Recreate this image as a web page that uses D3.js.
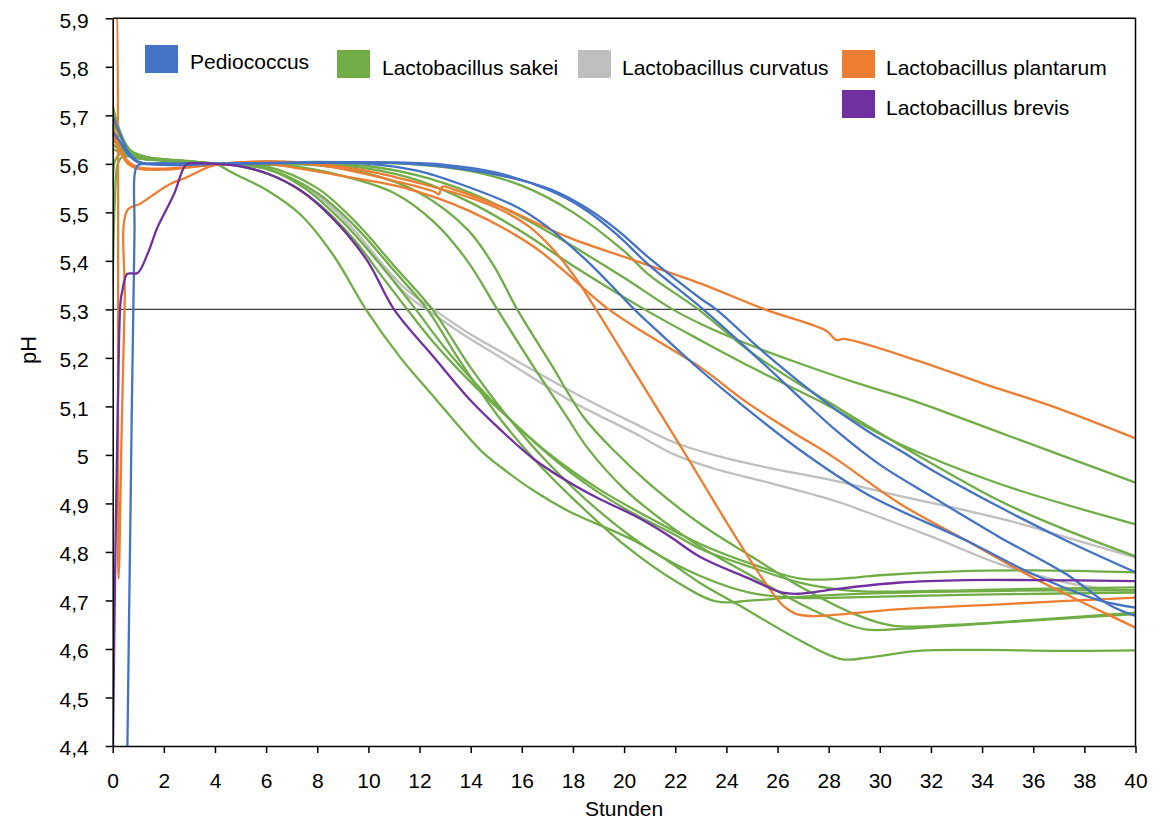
<!DOCTYPE html>
<html>
<head>
<meta charset="utf-8">
<script src="https://cdn.jsdelivr.net/npm/d3@7"></script>
<style>
  body { margin: 0; background: #ffffff; }
  text { font-family: "Liberation Sans", Arial, sans-serif; fill: #000; }
</style>
</head>
<body>
<svg id="chart" width="1155" height="825"></svg>
<script>
// pH curves during fermentation, hours 0–40, one array of [hours, pH] per starter run

// Pediococcus
const pedioA = [[0,5.70],[0.3,5.66],[0.6,5.625],[1,5.605],[2,5.598],[4,5.6],[8,5.602],[10,5.6],[11.9,5.586],[13.5,5.56],[15.8,5.511],[17,5.47],[18.4,5.407],[19.4,5.355],[20.4,5.3],[21,5.27],[23,5.174],[24.4,5.112],[26.9,5.009],[29.5,4.919],[33.4,4.823],[36,4.754],[38.6,4.70],[40,4.685]];
const pedioB = [[0,5.665],[0.3,5.645],[0.6,5.62],[1,5.603],[2,5.598],[4,5.6],[8,5.603],[11,5.602],[13.2,5.593],[15,5.578],[17.1,5.548],[18.5,5.51],[19.7,5.465],[21,5.405],[23,5.322],[23.6,5.3],[25.5,5.21],[27.8,5.112],[29.5,5.05],[30.8,5.009],[32,4.97],[34.7,4.892],[37.3,4.823],[40,4.758]];
const pedioC = [[0.55,4.3],[0.7,4.9],[0.85,5.45],[0.95,5.595],[1.2,5.6],[4,5.6],[8,5.603],[11,5.603],[13,5.598],[15,5.582],[17.1,5.545],[18.5,5.505],[19.7,5.455],[21,5.39],[23,5.304],[25,5.21],[27,5.112],[28.3,5.05],[30,4.98],[32.1,4.912],[34.7,4.83],[37.3,4.754],[39,4.69],[40,4.668]];

// Lactobacillus sakei
const sakeiA = [[0,5.35],[0.08,5.52],[0.2,5.6],[0.4,5.615],[1,5.612],[2.5,5.605],[4,5.6],[4.74,5.58],[6.05,5.545],[7.35,5.495],[8.65,5.41],[9.9,5.3],[11.26,5.2],[12.57,5.119],[14.4,5.009],[15.2,4.974],[16.5,4.925],[17.8,4.885],[20.4,4.823],[21.7,4.782],[23,4.735],[24.5,4.69],[26.9,4.617],[28.5,4.579],[29.5,4.582],[31.5,4.596],[34,4.598],[37,4.596],[40,4.597]];
const sakeiB = [[0,5.72],[0.3,5.665],[0.7,5.628],[1.5,5.612],[3,5.605],[4,5.6],[5,5.595],[6.5,5.57],[8,5.52],[9.5,5.44],[10.5,5.37],[11.52,5.3],[12.5,5.235],[14,5.15],[15.5,5.075],[17,5.005],[19,4.93],[21,4.87],[23,4.816],[25,4.775],[26.9,4.745],[28.5,4.745],[30,4.752],[33,4.76],[36,4.762],[40,4.758]];
const sakeiC = [[0,5.55],[0.12,5.61],[0.4,5.622],[1.5,5.612],[3,5.606],[4,5.6],[6,5.59],[7.5,5.55],[9,5.48],[10.5,5.39],[11.85,5.3],[13,5.22],[14.5,5.13],[16,5.05],[18,4.96],[20,4.89],[22,4.835],[23,4.806],[25,4.768],[27,4.735],[28.5,4.722],[30,4.718],[34,4.722],[40,4.727]];
const sakeiD = [[0,5.68],[0.3,5.64],[0.8,5.617],[2,5.608],[4,5.6],[6,5.59],[8,5.54],[9.5,5.47],[11,5.38],[12.3,5.3],[13.5,5.2],[15,5.085],[16.5,4.99],[18,4.91],[20,4.815],[22,4.74],[23.6,4.698],[25,4.7],[27,4.708],[30,4.715],[35,4.72],[40,4.721]];
const sakeiE = [[0,5.66],[0.3,5.635],[0.8,5.615],[2,5.607],[4,5.6],[6,5.595],[8,5.55],[9.5,5.48],[11,5.39],[12.5,5.3],[14,5.18],[15.5,5.075],[17,4.985],[19,4.885],[21,4.805],[23,4.75],[25,4.715],[27,4.705],[30,4.708],[35,4.713],[40,4.716]];
const sakeiF = [[0,5.64],[0.4,5.625],[1,5.612],[2.5,5.606],[4,5.6],[7,5.595],[9,5.575],[11,5.54],[12.57,5.48],[13.87,5.4],[15.04,5.3],[16.47,5.181],[17.78,5.077],[18.56,5.015],[20,4.93],[21.5,4.865],[23,4.81],[25,4.75],[27,4.69],[28.5,4.655],[29.5,4.64],[31,4.642],[34,4.652],[37,4.662],[40,4.672]];
const sakeiG = [[0,5.67],[0.4,5.635],[1,5.615],[2.5,5.607],[4,5.6],[8,5.597],[10,5.58],[12,5.54],[13.87,5.465],[14.9,5.39],[15.82,5.3],[17.13,5.188],[18.43,5.077],[19.6,5.009],[21,4.94],[23,4.857],[25,4.79],[27,4.725],[29,4.672],[30.5,4.648],[33,4.65],[36,4.66],[40,4.675]];
const sakeiH = [[0,5.65],[0.4,5.63],[1,5.615],[2.5,5.607],[4,5.6],[8,5.601],[10,5.595],[12,5.575],[14,5.54],[16,5.49],[18,5.43],[20,5.365],[21.9,5.3],[23,5.27],[25,5.225],[26.9,5.188],[29,5.15],[31.3,5.112],[35,5.04],[40,4.943]];
const sakeiI = [[0,5.69],[0.3,5.655],[0.8,5.622],[2,5.609],[4,5.6],[8,5.6],[10,5.59],[12,5.565],[14,5.52],[16,5.46],[18,5.39],[20.8,5.3],[23,5.236],[25,5.18],[27.6,5.112],[30.8,5.022],[34.7,4.94],[40,4.857]];
const sakeiJ = [[0,5.63],[0.4,5.622],[1,5.612],[2.5,5.605],[4,5.6],[8,5.604],[12,5.598],[14,5.585],[16,5.555],[18,5.5],[20,5.42],[21,5.37],[22.9,5.3],[25,5.21],[27.9,5.112],[30.8,5.02],[34.7,4.905],[37.3,4.845],[40,4.791]];

// Lactobacillus curvatus
const curvatusA = [[0,5.66],[0.5,5.63],[1,5.615],[2.5,5.607],[4,5.6],[6,5.59],[8,5.535],[9.5,5.46],[10.6,5.39],[11.5,5.34],[12.55,5.3],[13.8,5.255],[15.2,5.212],[17.8,5.135],[20.4,5.065],[22,5.025],[23.5,5.0],[25.5,4.975],[28.2,4.947],[30.8,4.915],[33.4,4.885],[35.5,4.858],[37.3,4.83],[40,4.789]];
const curvatusB = [[0,5.64],[0.5,5.622],[1,5.612],[2.5,5.606],[4,5.6],[6,5.59],[8,5.535],[9.5,5.46],[10.6,5.385],[11.5,5.33],[12.55,5.29],[13.8,5.245],[15.2,5.2],[17.8,5.115],[20.4,5.045],[22,5.0],[23.5,4.972],[25.5,4.945],[28.2,4.906],[30.2,4.868],[32.1,4.83],[34.7,4.775],[37.3,4.737],[40,4.717]];

// Lactobacillus plantarum
const plantarumA = [[0,5.68],[0.3,5.63],[0.6,5.605],[1,5.593],[2,5.59],[4,5.598],[6,5.605],[8,5.598],[9.3,5.586],[11,5.565],[12.6,5.542],[12.75,5.537],[12.9,5.553],[13.3,5.548],[15.2,5.511],[17.8,5.449],[20.4,5.401],[23,5.353],[25.5,5.3],[27.9,5.256],[28.3,5.237],[28.6,5.239],[31.5,5.194],[34.1,5.146],[36.7,5.101],[40,5.034]];
const plantarumB = [[0,5.62],[0.05,5.95],[0.12,5.97],[0.23,4.745],[0.35,5.05],[0.47,5.32],[0.57,5.504],[1.09,5.518],[1.75,5.542],[2.27,5.559],[2.92,5.573],[3.96,5.597],[6,5.605],[8,5.6],[10,5.585],[12,5.56],[14,5.53],[15.2,5.505],[16.3,5.47],[17.2,5.425],[18.1,5.365],[18.9,5.3],[20.4,5.172],[22.3,5.01],[24,4.862],[25.5,4.738],[26.2,4.69],[26.7,4.673],[27.3,4.668],[30.8,4.682],[34.7,4.692],[37.3,4.699],[40,4.706]];
const plantarumC = [[0,5.66],[0.3,5.625],[0.6,5.6],[1,5.59],[2,5.588],[4,5.598],[6,5.6],[7.35,5.59],[9.5,5.57],[11.3,5.552],[13.9,5.504],[16.5,5.428],[19.4,5.3],[21,5.245],[23,5.18],[24.7,5.112],[26.5,5.05],[28.2,4.995],[30.8,4.899],[33.4,4.823],[36,4.747],[38.6,4.679],[40,4.644]];

// Lactobacillus brevis
const brevisA = [[0,4.35],[0.08,4.7],[0.2,5.1],[0.31,5.318],[0.38,5.339],[0.57,5.373],[0.97,5.375],[1.36,5.414],[1.75,5.469],[2.14,5.51],[2.4,5.538],[2.79,5.593],[2.92,5.6],[4,5.6],[5,5.595],[6.05,5.58],[7.35,5.545],[8.65,5.485],[9.96,5.4],[11,5.3],[12.57,5.201],[14,5.112],[15.2,5.05],[16.5,4.99],[17.8,4.945],[19,4.91],[20.4,4.875],[21.7,4.835],[23,4.789],[24.9,4.745],[26.2,4.716],[26.9,4.714],[28.2,4.723],[30.8,4.737],[33.4,4.742],[36,4.742],[40,4.74]];

// legend categories and colours
const species = ["Pediococcus", "Lactobacillus sakei", "Lactobacillus curvatus", "Lactobacillus plantarum", "Lactobacillus brevis"];
const speciesColors = ["#4472C4", "#70AD47", "#BFBFBF", "#ED7D31", "#7030A0"];

// axis ticks
const xTicks = [0,2,4,6,8,10,12,14,16,18,20,22,24,26,28,30,32,34,36,38,40];
const yTicks = [4.4,4.5,4.6,4.7,4.8,4.9,5.0,5.1,5.2,5.3,5.4,5.5,5.6,5.7,5.8,5.9];
const thresholdPH = 5.3;

// runs grouped by species, in drawing order
const runs = [
  { sp: 2, pts: curvatusA }, { sp: 2, pts: curvatusB },
  { sp: 1, pts: sakeiA }, { sp: 1, pts: sakeiB }, { sp: 1, pts: sakeiC }, { sp: 1, pts: sakeiD },
  { sp: 1, pts: sakeiE }, { sp: 1, pts: sakeiF }, { sp: 1, pts: sakeiG }, { sp: 1, pts: sakeiH },
  { sp: 1, pts: sakeiI }, { sp: 1, pts: sakeiJ },
  { sp: 3, pts: plantarumA }, { sp: 3, pts: plantarumB }, { sp: 3, pts: plantarumC },
  { sp: 0, pts: pedioA }, { sp: 0, pts: pedioB }, { sp: 0, pts: pedioC },
  { sp: 4, pts: brevisA }
];

const svg = d3.select("#chart");
const plot = { left: 112.7, right: 1135.5, top: 18.3, bottom: 746 };

const x = d3.scaleLinear().domain([0, 40]).range([plot.left, plot.right]);
const y = d3.scaleLinear().domain([4.4, 5.9]).range([plot.bottom, plot.top]);
const comma = v => {
  const s = d3.format(".1f")(v);
  return s.endsWith(".0") ? s.slice(0, -2) : s.replace(".", ",");
};

svg.append("rect").attr("width", 1155).attr("height", 825).attr("fill", "#fff");

svg.append("clipPath").attr("id", "plotClip")
  .append("rect")
  .attr("x", plot.left).attr("y", plot.top)
  .attr("width", plot.right - plot.left).attr("height", plot.bottom - plot.top);

// threshold line at pH 5.3
svg.append("line")
  .attr("x1", x(0)).attr("x2", x(40))
  .attr("y1", y(thresholdPH)).attr("y2", y(thresholdPH))
  .attr("stroke", "#3a3a3a").attr("stroke-width", 1.2);

// curves
const line = d3.line()
  .x(d => x(d[0]))
  .y(d => y(d[1]))
  .curve(d3.curveCatmullRom.alpha(0.5));

svg.append("g").attr("clip-path", "url(#plotClip)")
  .selectAll("path")
  .data(runs)
  .join("path")
  .attr("d", d => line(d.pts))
  .attr("fill", "none")
  .attr("stroke", d => speciesColors[d.sp])
  .attr("stroke-width", 2.3)
  .attr("stroke-linejoin", "round")
  .attr("stroke-linecap", "round");

// axes
const yAxis = d3.axisLeft(y).tickValues(yTicks).tickFormat(comma).tickSize(7).tickSizeOuter(0).tickPadding(17);
const xAxis = d3.axisBottom(x).tickValues(xTicks).tickFormat(d3.format("d")).tickSize(7).tickSizeOuter(0).tickPadding(20);

const gy = svg.append("g").attr("transform", `translate(${plot.left},0)`).call(yAxis);
const gx = svg.append("g").attr("transform", `translate(0,${plot.bottom})`).call(xAxis);

[gx, gy].forEach(g => {
  g.selectAll(".domain").attr("stroke", "#000").attr("stroke-width", 1.5);
  g.selectAll(".tick line").attr("stroke", "#000").attr("stroke-width", 1.5);
  g.selectAll(".tick text").attr("font-size", 21).attr("fill", "#000")
    .style("font-family", "'Liberation Sans', Arial, sans-serif");
});
gy.selectAll(".tick text").attr("dy", "0.42em");

// plot area frame (top and right edges)
svg.append("path")
  .attr("d", `M${plot.left},${plot.top}H${plot.right}V${plot.bottom}`)
  .attr("fill", "none").attr("stroke", "#000").attr("stroke-width", 1.5);

// axis titles
svg.append("text")
  .attr("x", (plot.left + plot.right) / 2).attr("y", 816)
  .attr("text-anchor", "middle").attr("font-size", 21)
  .text("Stunden");

svg.append("text")
  .attr("transform", "translate(36,350) rotate(-90)")
  .attr("text-anchor", "middle").attr("font-size", 22)
  .text("pH");

// legend
const legendItems = [
  { sp: 0, sx: 145, sy: 45, tx: 190, ty: 69 },
  { sp: 1, sx: 337, sy: 50, tx: 382, ty: 75 },
  { sp: 2, sx: 578, sy: 50, tx: 622, ty: 75 },
  { sp: 3, sx: 842, sy: 50, tx: 886, ty: 75 },
  { sp: 4, sx: 842, sy: 90, tx: 886, ty: 115 }
];
const legend = svg.append("g");
legend.selectAll("rect")
  .data(legendItems)
  .join("rect")
  .attr("x", d => d.sx).attr("y", d => d.sy)
  .attr("width", 33).attr("height", 28)
  .attr("fill", d => speciesColors[d.sp]);
legend.selectAll("text")
  .data(legendItems)
  .join("text")
  .attr("x", d => d.tx).attr("y", d => d.ty)
  .attr("font-size", 21)
  .text(d => species[d.sp]);
</script>
</body>
</html>
